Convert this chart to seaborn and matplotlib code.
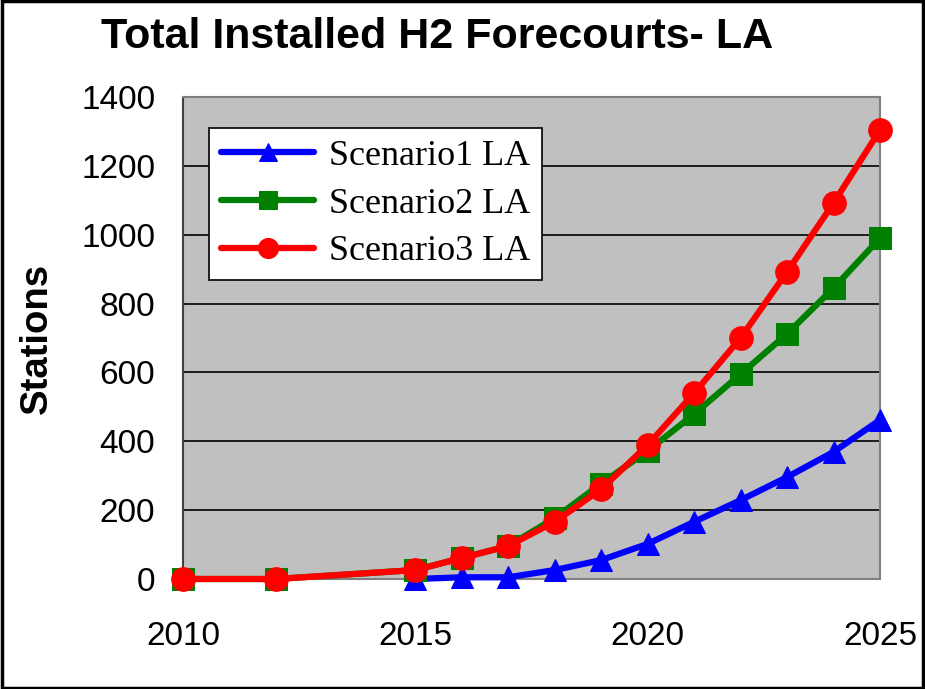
import matplotlib
matplotlib.use("Agg")
import matplotlib.pyplot as plt
import seaborn as sns
import pandas as pd

years1 = [2015, 2016, 2017, 2018, 2019, 2020, 2021, 2022, 2023, 2024, 2025]
scenario1 = [0, 5, 5, 26, 55, 102, 166, 229, 296, 369, 462]
years23 = [2010, 2012, 2015, 2016, 2017, 2018, 2019, 2020, 2021, 2022, 2023, 2024, 2025]
scenario2 = [0, 0, 26, 61, 96, 177, 277, 372, 479, 595, 712, 845, 990]
scenario3 = [0, 0, 26, 61, 96, 166, 261, 389, 540, 700, 892, 1092, 1304]
series_names = ["Scenario1 LA", "Scenario2 LA", "Scenario3 LA"]
title = "Total Installed H2 Forecourts- LA"
ylabel = "Stations"
xticks = [2010, 2015, 2020, 2025]
yticks = [0, 200, 400, 600, 800, 1000, 1200, 1400]

sns.set_style("white")
plt.rcParams['font.family'] = ['Liberation Sans', 'DejaVu Sans']
plt.rcParams['text.color'] = 'black'
plt.rcParams['xtick.color'] = 'black'
plt.rcParams['ytick.color'] = 'black'
plt.rcParams['axes.labelcolor'] = 'black'

df = pd.concat([
    pd.DataFrame({"year": years1, "val": scenario1, "s": series_names[0]}),
    pd.DataFrame({"year": years23, "val": scenario2, "s": series_names[1]}),
    pd.DataFrame({"year": years23, "val": scenario3, "s": series_names[2]}),
])

fig = plt.figure(figsize=(9.25, 6.89), dpi=100)
ax = fig.add_axes([183/925, 1 - 579/689, (880-183)/925, (579-97)/689])
ax.set_facecolor("#C0C0C0")
ax.set_axisbelow(True)

colors = ["#0000FF", "#008000", "#FF0000"]
markers = ["^", "s", "o"]
sizes = [16, 16, 17]
for name, c, m, ms in zip(series_names, colors, markers, sizes):
    d = df[df["s"] == name]
    sns.lineplot(data=d, x="year", y="val", ax=ax, color=c, marker=m,
                 markersize=ms, markeredgecolor=c, linewidth=4.5, label=name,
                 clip_on=False, zorder=3)

ax.set_xlim(2010, 2025)
ax.set_ylim(0, 1400)
ax.set_xticks(xticks)
ax.set_yticks(yticks)
ax.tick_params(axis="both", labelsize=24, direction="out", length=8, width=1.2, colors="black")
ax.tick_params(axis="y", pad=12)
ax.tick_params(axis="x", pad=22)
ax.yaxis.grid(True, color="black", linewidth=1.2)
ax.xaxis.grid(False)
for sp in ["top", "right", "bottom"]:
    ax.spines[sp].set_color("#808080")
    ax.spines[sp].set_linewidth(1.5)
ax.spines["left"].set_color("#404040")
ax.spines["left"].set_linewidth(1.5)
ax.set_xlabel("")
ax.set_ylabel(ylabel, fontsize=27.5, fontweight="bold")
ax.yaxis.set_label_coords((55-183)/697, 0.5)

fig.text(437/925, 1 - 37/689, title, ha="center", va="center", fontsize=31, fontweight="bold")

leg = ax.legend(loc="upper left", bbox_to_anchor=((209-183)/697, (579-128)/482),
                prop={"family": "Liberation Serif", "size": 26}, frameon=True,
                fancybox=False, edgecolor="black", borderpad=0.32, labelspacing=0.4,
                handlelength=2.6, handletextpad=0.4, borderaxespad=0, markerscale=0.85)
leg.get_frame().set_linewidth(1.2)
leg.get_frame().set_facecolor("white")
leg.get_frame().set_alpha(1)

fig.patches.append(plt.Rectangle((0.002, 0.002), 0.996, 0.996, transform=fig.transFigure,
                                 fill=False, edgecolor="black", linewidth=2.5))

fig.savefig("out.png", dpi=100, facecolor="white")
